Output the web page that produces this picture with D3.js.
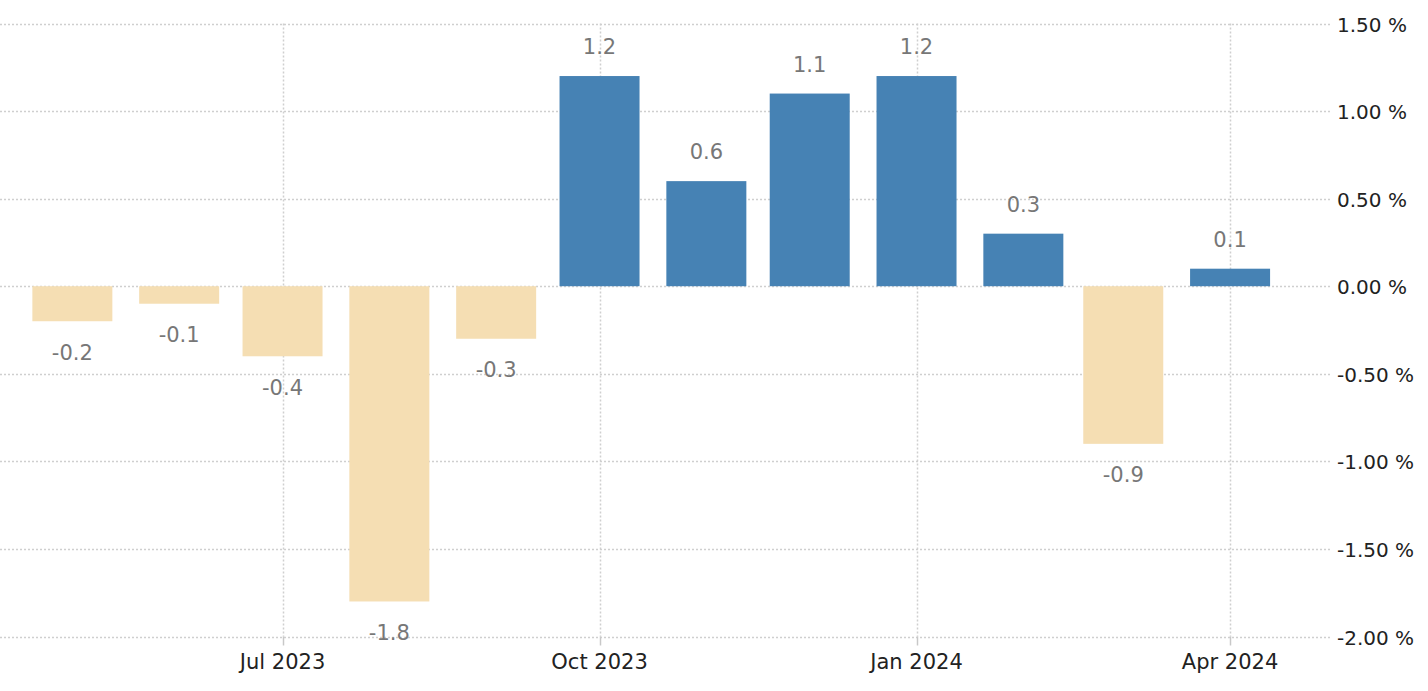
<!DOCTYPE html>
<html>
<head>
<meta charset="utf-8">
<script src="https://cdn.jsdelivr.net/npm/d3@7"></script>
<style>
    body { margin: 0; background: #fff; }
    svg { display: block; font-family: "DejaVu Sans", Verdana, sans-serif; }
</style>
</head>
<body>
<div id="chart"></div>
<script>
// monthly change, %
const months = ['2023-05-01', '2023-06-01', '2023-07-01', '2023-08-01', '2023-09-01', '2023-10-01',
                '2023-11-01', '2023-12-01', '2024-01-01', '2024-02-01', '2024-03-01', '2024-04-01'];
const values = [-0.2, -0.1, -0.4, -1.8, -0.3, 1.2, 0.6, 1.1, 1.2, 0.3, -0.9, 0.1];
const yTicks = [1.5, 1.0, 0.5, 0.0, -0.5, -1.0, -1.5, -2.0];
const xTicks = ['2023-07-01', '2023-10-01', '2024-01-01', '2024-04-01'];

const width = 1428, height = 691;
const plotRight = 1330;

const svg = d3.select('#chart').append('svg')
    .attr('width', width)
    .attr('height', height);

const parse = d3.utcParse('%Y-%m-%d');

const x = d3.scaleUtc()
    .domain([parse('2023-04-10'), parse('2024-04-30')])
    .range([0, plotRight]);

const y = d3.scaleLinear()
    .domain([-2, 1.5])
    .range([636.5, 23.5]);

const gridColor = '#cfcfcf';

// horizontal grid
svg.append('g')
    .selectAll('line')
    .data(yTicks)
    .enter()
    .append('line')
    .attr('x1', 0)
    .attr('x2', plotRight)
    .attr('y1', d => Math.round(y(d)) + 0.5)
    .attr('y2', d => Math.round(y(d)) + 0.5)
    .attr('stroke', gridColor)
    .attr('stroke-width', 1.5)
    .attr('stroke-dasharray', '2,2');

// vertical grid + ticks
const xg = svg.append('g');
xg.selectAll('line.grid')
    .data(xTicks)
    .enter()
    .append('line')
    .attr('class', 'grid')
    .attr('x1', d => Math.round(x(parse(d))) + 0.5)
    .attr('x2', d => Math.round(x(parse(d))) + 0.5)
    .attr('y1', y(1.5))
    .attr('y2', y(-2))
    .attr('stroke', gridColor)
    .attr('stroke-width', 1.5)
    .attr('stroke-dasharray', '2,2');
xg.selectAll('line.tick')
    .data(xTicks)
    .enter()
    .append('line')
    .attr('class', 'tick')
    .attr('x1', d => Math.round(x(parse(d))) + 0.5)
    .attr('x2', d => Math.round(x(parse(d))) + 0.5)
    .attr('y1', y(-2))
    .attr('y2', y(-2) + 9)
    .attr('stroke', '#c8c8c8')
    .attr('stroke-width', 1.5);

// bars
const barW = 80;
svg.append('g')
    .selectAll('rect')
    .data(values)
    .enter()
    .append('rect')
    .attr('x', (d, i) => x(parse(months[i])) - barW / 2)
    .attr('y', d => y(Math.max(0, d)))
    .attr('width', barW)
    .attr('height', d => Math.abs(y(d) - y(0)))
    .attr('fill', d => d >= 0 ? '#4682b4' : '#f5deb3');

// value labels
svg.append('g')
    .selectAll('text')
    .data(values)
    .enter()
    .append('text')
    .attr('x', (d, i) => x(parse(months[i])))
    .attr('y', d => d >= 0 ? y(d) - 29 : y(d) + 31)
    .attr('dy', '0.35em')
    .attr('text-anchor', 'middle')
    .attr('fill', '#777')
    .attr('font-size', 21)
    .text(d => d.toFixed(1));

// y axis labels
svg.append('g')
    .selectAll('text')
    .data(yTicks)
    .enter()
    .append('text')
    .attr('x', 1337)
    .attr('y', d => y(d) + 1)
    .attr('dy', '0.35em')
    .attr('fill', '#222')
    .attr('font-size', 20)
    .text(d => d.toFixed(2) + ' %');

// x axis labels
svg.append('g')
    .selectAll('text')
    .data(xTicks)
    .enter()
    .append('text')
    .attr('x', d => x(parse(d)))
    .attr('y', 662)
    .attr('dy', '0.35em')
    .attr('text-anchor', 'middle')
    .attr('fill', '#222')
    .attr('font-size', 21)
    .text(d => d3.utcFormat('%b %Y')(parse(d)));
</script>
</body>
</html>
